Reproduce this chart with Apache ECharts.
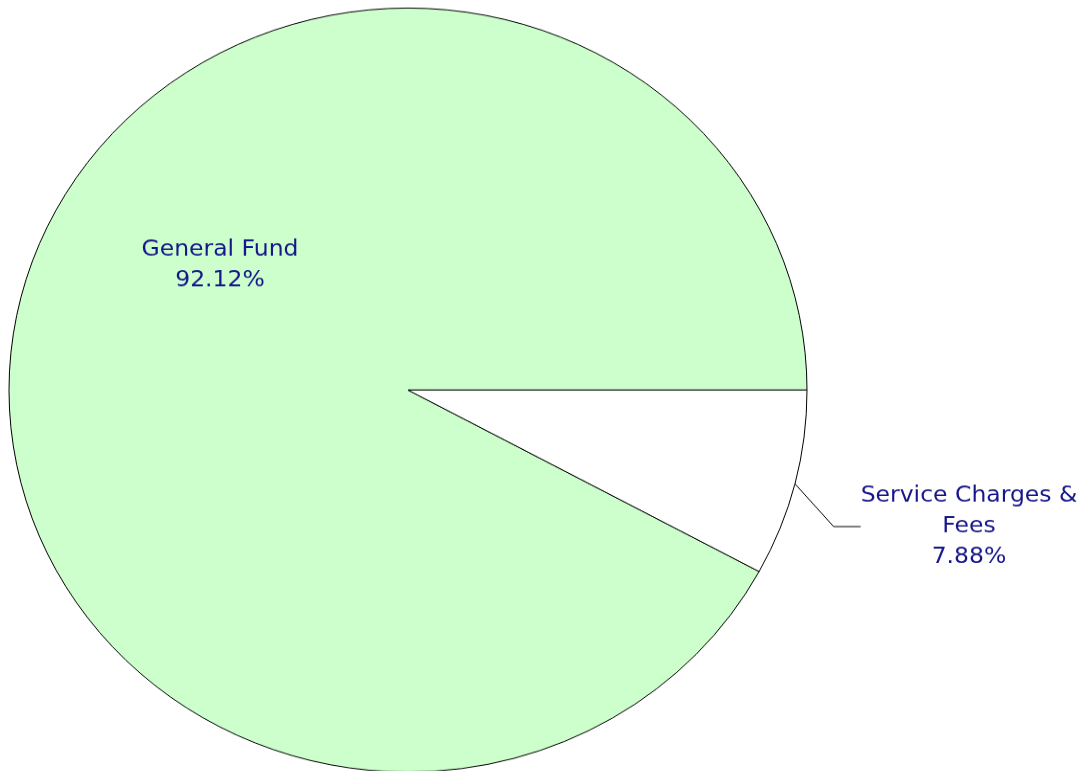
<!DOCTYPE html>
<html>
<head>
<meta charset="utf-8">
<script src="https://cdn.jsdelivr.net/npm/echarts@6/dist/echarts.min.js"></script>
<style>
html,body{margin:0;padding:0;background:#fff;overflow:hidden;}
#wrap{width:1086px;height:771px;overflow:hidden;position:relative;}
#main{width:1086px;height:806px;transform:scaleY(0.9574);transform-origin:0 0;}
</style>
</head>
<body>
<div id="wrap"><div id="main"></div></div>
<script>
const categories = ['General Fund', 'Service Charges &\nFees'];
const values = [92.12, 7.88];
const colors = ['#ccffcc', '#ffffff'];

const chart = echarts.init(document.getElementById('main'), null, {renderer: 'canvas'});
const textColor = '#16168a';
const font = '"DejaVu Sans", sans-serif';

chart.setOption({
  animation: false,
  series: [{
    type: 'pie',
    center: [408, 407.4],
    radius: [0, 399],
    startAngle: 0,
    clockwise: false,
    percentPrecision: 2,
    data: categories.map((c, i) => ({
      name: c, value: values[i],
      itemStyle: {color: colors[i]},
      label: i === 0 ? {position: 'inside'} : {position: 'outside'},
      labelLine: {show: i !== 0}
    })),
    itemStyle: {borderColor: '#000', borderWidth: 1},
    label: {
      formatter: '{b}\n{d}%',
      color: textColor,
      fontFamily: font,
      fontSize: 23.5,
      lineHeight: 32,
      align: 'center',
      overflow: 'none'
    },
    labelLine: {length: 50, length2: 27, lineStyle: {color: '#000', width: 1}, smooth: false},
    labelLayout: function (p) {
      if (p.dataIndex === 0) return {x: 220, y: 277, align: 'center', verticalAlign: 'middle'};
      return {x: 969, y: 550, align: 'center', verticalAlign: 'middle'};
    },
    emphasis: {disabled: true}
  }]
});
</script>
</body>
</html>
